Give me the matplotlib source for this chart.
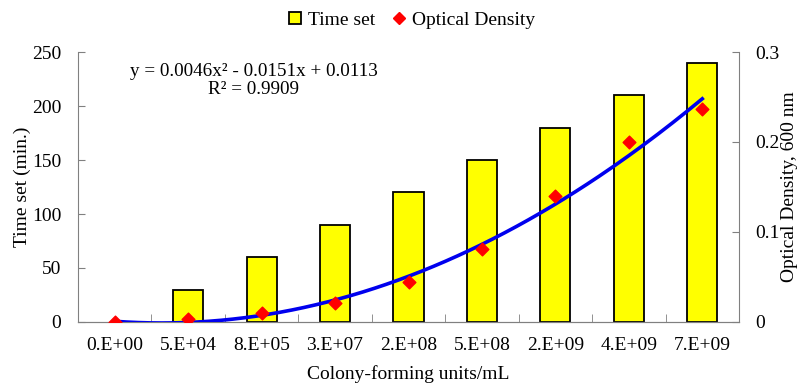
import numpy as np
import matplotlib.pyplot as plt
from matplotlib.lines import Line2D

plt.rcParams['font.family'] = ['Liberation Serif', 'DejaVu Serif']

cfu_labels = ['0.E+00', '5.E+04', '8.E+05', '3.E+07', '2.E+08',
              '5.E+08', '2.E+09', '4.E+09', '7.E+09']
time_set = [0, 30, 60, 90, 120, 150, 180, 210, 240]
optical_density = [0.0, 0.003, 0.010, 0.021, 0.044, 0.081, 0.140, 0.200, 0.237]
# trendline coefficients as printed on the chart (x = 1..9)
trend_coef = [0.0046, -0.0151, 0.0113]

pos = np.arange(1, len(cfu_labels) + 1)

fig = plt.figure(figsize=(7.97, 3.88), dpi=100)
ax = fig.add_axes([78 / 797, 1 - 322 / 388, (739 - 78) / 797, (322 - 52) / 388])
ax2 = ax.twinx()

edges = ['black' if v > 0 else 'none' for v in time_set]
ax.bar(pos, time_set, width=0.41, color='#ffff00', edgecolor=edges,
       linewidth=1.3, zorder=2)

xs = np.linspace(1, 9, 200)
ax2.plot(xs, np.polyval(trend_coef, xs), color='#0000ee', lw=2.6, zorder=3)
ax2.scatter(pos, optical_density, marker='D', s=42, color='red', zorder=4)

ax.set_xlim(0.5, 9.5)
ax.set_ylim(0, 250)
ax2.set_ylim(0, 0.3)
ax.set_yticks([0, 50, 100, 150, 200, 250])
ax2.set_yticks([0, 0.1, 0.2, 0.3])
ax2.set_yticklabels(['0', '0.1', '0.2', '0.3'])
ax.set_xticks(pos)
ax.set_xticklabels(cfu_labels)
ax.set_xticks(np.arange(1.5, 9.5, 1), minor=True)
ax.tick_params(axis='x', which='major', length=0, pad=11, labelsize=14)
ax.tick_params(axis='x', which='minor', direction='in', length=6, color='#808080')
ax.tick_params(axis='y', direction='in', length=5, color='#808080', labelsize=14, pad=12)
ax2.tick_params(axis='y', direction='in', length=5, color='#808080', labelsize=14, pad=12)

for a in (ax, ax2):
    a.spines['top'].set_visible(False)
    for s in ('left', 'right', 'bottom'):
        a.spines[s].set_color('#808080')
ax2.spines['left'].set_visible(False)
ax.spines['right'].set_visible(False)

ax.set_ylabel('Time set (min.)', fontsize=14, va='center')
ax.yaxis.set_label_coords((22 - 78) / 661, 0.5)
ax2.set_ylabel('Optical Density, 600 nm', fontsize=14, va='center')
ax2.yaxis.set_label_coords((789 - 78) / 661, 0.5)
ax.set_xlabel('Colony-forming units/mL', fontsize=14, labelpad=8)

ax.text(0.266, 0.96, 'y = 0.0046x² - 0.0151x + 0.0113\nR² = 0.9909',
        transform=ax.transAxes, ha='center', va='top', fontsize=13.8,
        linespacing=1.1)

handles = [Line2D([], [], ls='none', marker='s', ms=9, mfc='#ffff00',
                  mec='black', mew=1.3),
           Line2D([], [], ls='none', marker='D', ms=6, mfc='red', mec='red')]
fig.legend(handles, ['Time set', 'Optical Density'], loc='upper center',
           bbox_to_anchor=(0.516, 1.015), ncol=2, frameon=False, fontsize=14,
           handlelength=0.8, handletextpad=0.3, columnspacing=0.8)

fig.savefig('out.png', dpi=100)
